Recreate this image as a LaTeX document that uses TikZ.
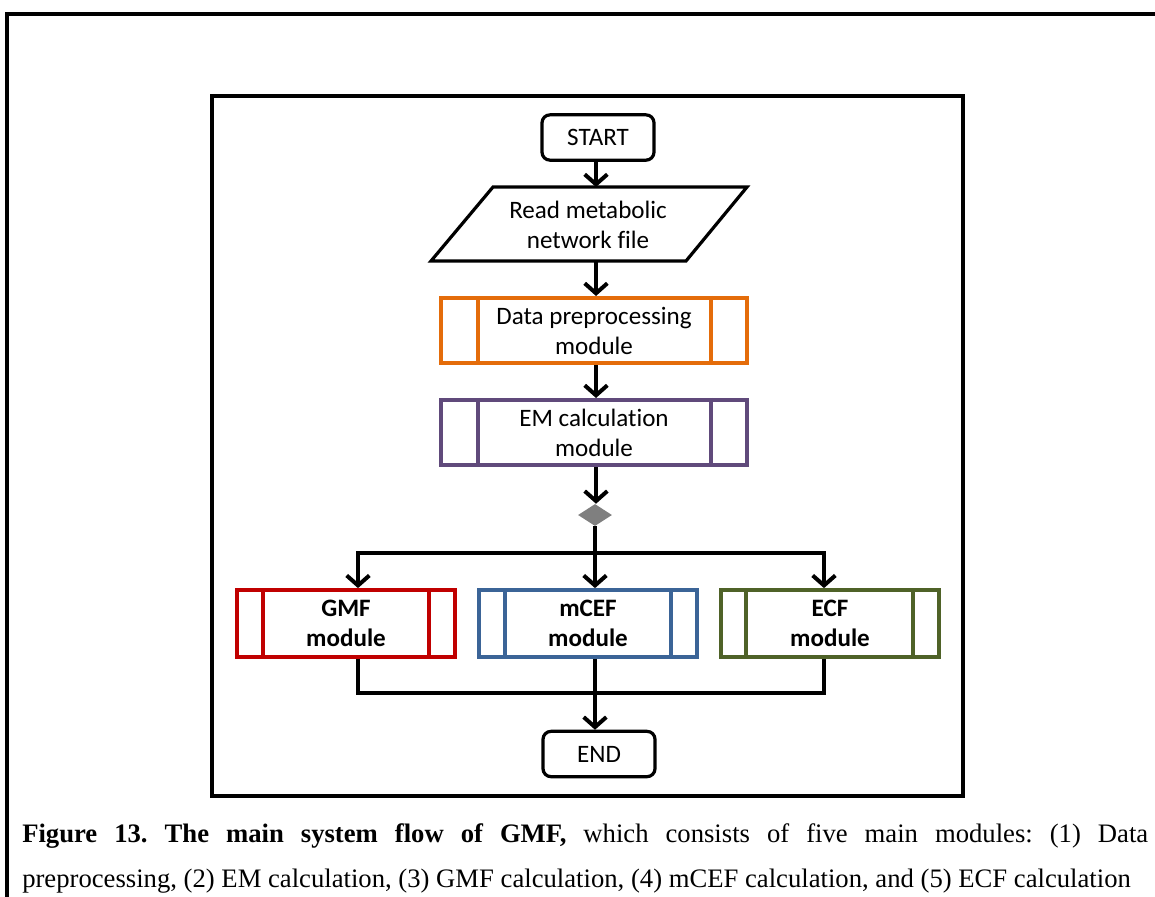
\documentclass[tikz,border=0pt]{standalone}
\usepackage{fontspec}
\setmainfont{Liberation Serif}
\newfontfamily\diag[Ligatures=NoCommon]{Carlito}
\usetikzlibrary{arrows.meta,calc,shapes.geometric}
\definecolor{orng}{HTML}{E46C0A}
\definecolor{purp}{HTML}{604A7B}
\definecolor{redm}{HTML}{C00000}
\definecolor{blum}{HTML}{3B6497}
\definecolor{grnm}{HTML}{4F6228}
\definecolor{gry}{HTML}{7F7F7F}
\begin{document}
\begin{tikzpicture}[x=0.75pt,y=-0.75pt,
  dfont/.style={font=\diag\fontsize{18.8}{22.5}\selectfont},
  bfont/.style={font=\diag\bfseries\fontsize{18.8}{22.5}\selectfont},
  term/.style={draw, line width=2.4pt, rounded corners=6pt, minimum width=84pt, minimum height=34pt, dfont},
  sub/.style={draw, line width=2.8pt, minimum height=49pt, align=center, dfont, inner sep=0pt},
  bigsub/.style={sub, minimum width=229.5pt},
  smallsub/.style={sub, minimum width=163.5pt, minimum height=50.25pt, bfont},
  conn/.style={line width=3pt},
  arr/.style={conn, -{Straight Barb[length=7.5pt, width=17pt]}},
  frame/.style={line width=2.4pt},
  captext/.style={anchor=base west, inner sep=0pt, font=\fontsize{20}{24}\selectfont}
]
\clip (0,0) rectangle (1155,896);
% frames
\draw[frame] (7,920) -- (7,14) -- (1180,14);
\draw[frame] (212,96) rectangle (963,796);

% nodes
\node[term] (start) at (598,137.5) {START};
\coordinate (p1) at (493,187);
\coordinate (p2) at (747,187);
\coordinate (p3) at (686,261);
\coordinate (p4) at (431,261);
\draw[line width=2.4pt, line join=miter] (p1) -- (p2) -- (p3) -- (p4) -- cycle;
\node[dfont, align=center] (read) at (588,225) {Read metabolic\\network file};
\coordinate (rtop) at (596,187);
\coordinate (rbot) at (596,261);

\node[bigsub, draw=orng] (data) at (594,330.5) {Data preprocessing\\module};
\draw[line width=2.8pt, orng] ($(data.north west)+(39,0)$) -- ($(data.south west)+(39,0)$);
\draw[line width=2.8pt, orng] ($(data.north east)+(-38,0)$) -- ($(data.south east)+(-38,0)$);

\node[bigsub, draw=purp] (em) at (594,432.5) {EM calculation\\module};
\draw[line width=2.8pt, purp] ($(em.north west)+(39,0)$) -- ($(em.south west)+(39,0)$);
\draw[line width=2.8pt, purp] ($(em.north east)+(-38,0)$) -- ($(em.south east)+(-38,0)$);

\node[diamond, fill=gry, minimum width=25.5pt, minimum height=16.5pt, inner sep=0pt] (dia) at (595,515) {};

\node[smallsub, draw=redm] (gmf) at (346,623.5) {GMF\\module};
\draw[line width=2.8pt, redm] ($(gmf.north west)+(28,0)$) -- ($(gmf.south west)+(28,0)$);
\draw[line width=2.8pt, redm] ($(gmf.north east)+(-28,0)$) -- ($(gmf.south east)+(-28,0)$);

\node[smallsub, draw=blum] (mcef) at (588,623.5) {mCEF\\module};
\draw[line width=2.8pt, blum] ($(mcef.north west)+(28,0)$) -- ($(mcef.south west)+(28,0)$);
\draw[line width=2.8pt, blum] ($(mcef.north east)+(-28,0)$) -- ($(mcef.south east)+(-28,0)$);

\node[smallsub, draw=grnm] (ecf) at (830,623.5) {ECF\\module};
\draw[line width=2.8pt, grnm] ($(ecf.north west)+(27,0)$) -- ($(ecf.south west)+(27,0)$);
\draw[line width=2.8pt, grnm] ($(ecf.north east)+(-28,0)$) -- ($(ecf.south east)+(-28,0)$);

\node[term] (end) at (599,754) {END};

% connectors
\draw[arr] (rtop |- start.south) -- (rtop);
\draw[arr] (rbot) -- (rbot |- data.north);
\draw[arr] (rbot |- data.south) -- (rbot |- em.north);
\draw[arr] (rbot |- em.south) -- (rbot |- dia.north);
\coordinate (split) at (595,553);
\coordinate (join) at (595,693);
\draw[conn] (dia.south) -- (split);
\draw[arr, line join=miter] (split) -| ([xshift=9pt]gmf.north);
\draw[arr] (split) -- (split |- mcef.north);
\draw[arr, line join=miter] (split) -| ([xshift=-4.5pt]ecf.north);
\draw[conn, line join=miter] ([xshift=9pt]gmf.south) |- (join);
\draw[conn, line join=miter] ([xshift=-4.5pt]ecf.south) |- (join);
\draw[arr] (join |- mcef.south) -- (join |- end.north);

% caption
\node[captext] (cap1) at (22,842)
  {\frenchspacing\makebox[844.5pt][s]{\textbf{Figure 13. The main system flow of GMF,} which consists of five main modules: (1) Data}};
\node[captext] (cap2) at (22,887)
  {preprocessing, (2) EM calculation, (3) GMF calculation, (4) mCEF calculation, and (5) ECF calculation};
\end{tikzpicture}
\end{document}
